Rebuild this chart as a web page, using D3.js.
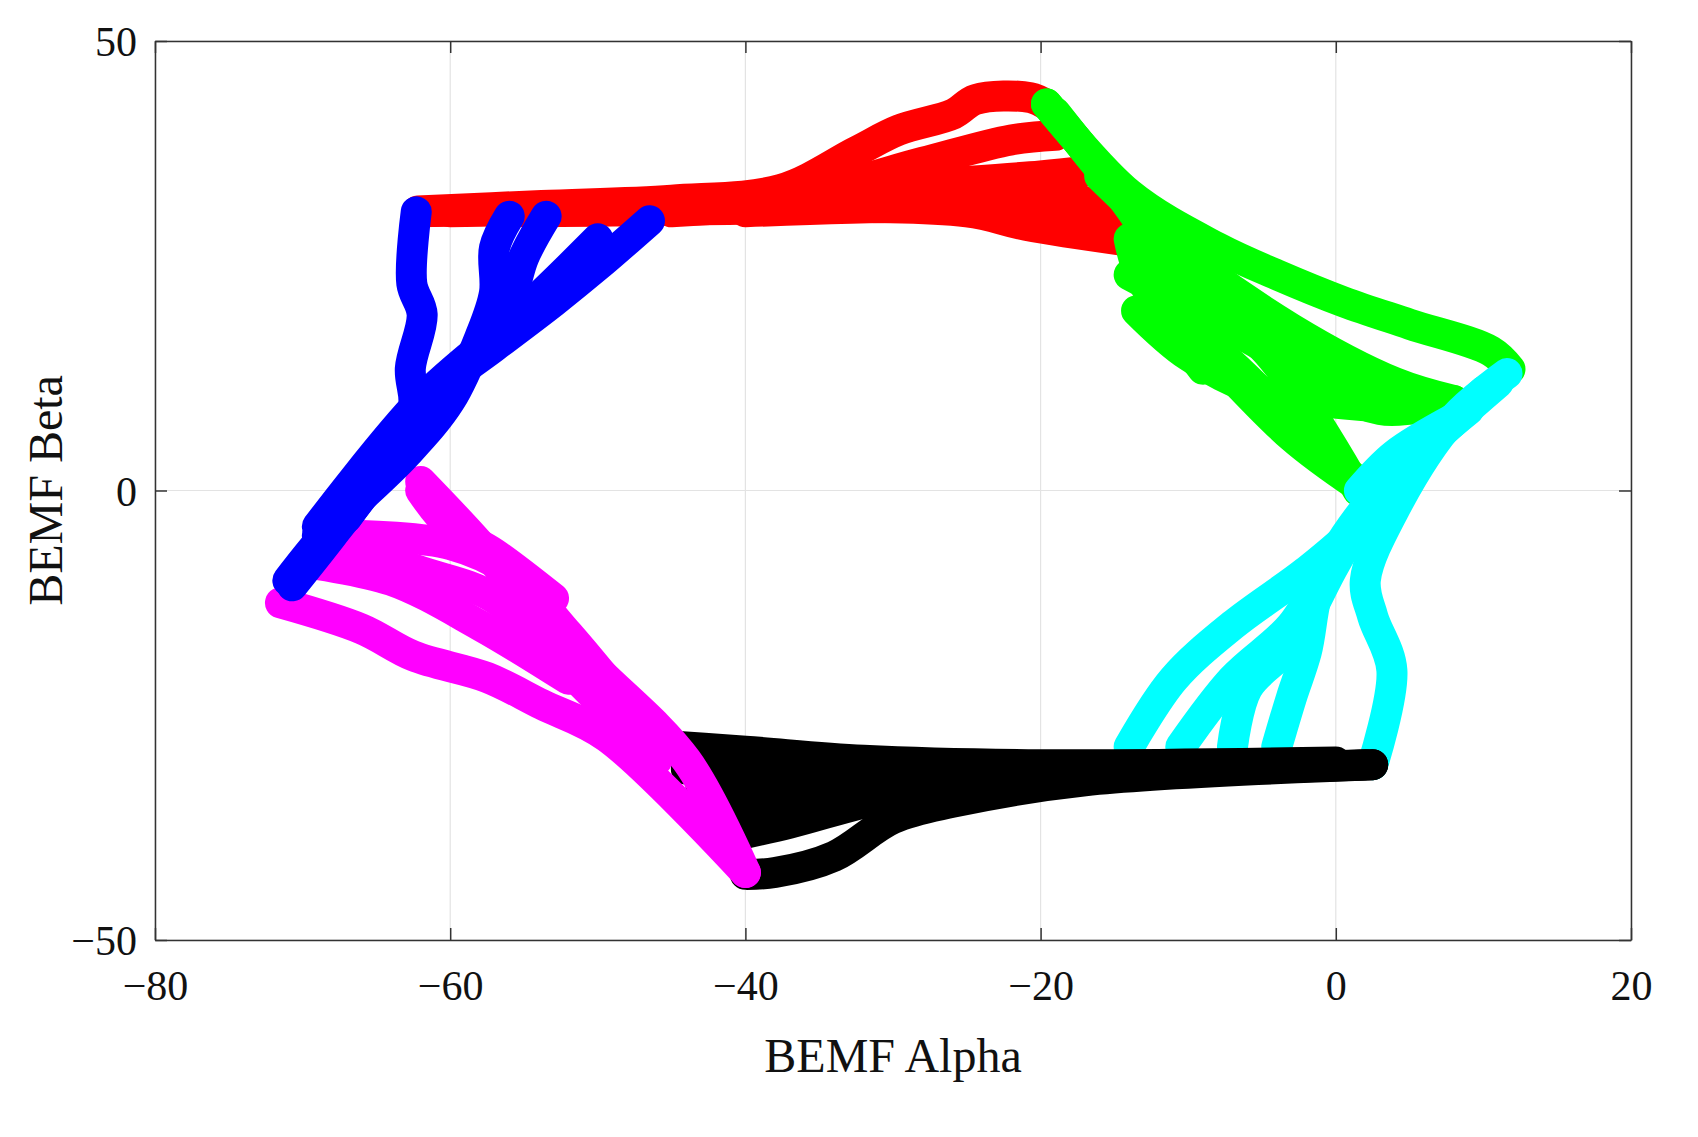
<!DOCTYPE html>
<html>
<head>
<meta charset="utf-8">
<script src="https://cdn.jsdelivr.net/npm/d3@7"></script>
<style>
  body { margin: 0; background: #fff; }
  text { font-family: "Liberation Serif", "Times New Roman", serif; fill: #111; }
</style>
</head>
<body>
<div class="canvas"></div>
<script>
// ticks
const xTicks = [-80, -60, -40, -20, 0, 20];
const yTicks = [-50, 0, 50];

// red segment traces [alpha, beta]
const red = [
  [[-62.2,31.1],[-53.8,31.7],[-45,32.3],[-37.6,33.5],[-32.5,37.7],[-29.6,40.1],[-25.9,41.9],[-24.4,43.5],[-20.7,43.7],[-19.6,42.9]],
  [[-62,31],[-45,32],[-35,33.5],[-28,36.5],[-22,39],[-19,39.5]],
  [[-62,31],[-40,32.5],[-28,34],[-20,35],[-17,35.5]],
  [[-60,31],[-40,31.5],[-25,31],[-21,29.5],[-13,27.5]],
  [[-55,31],[-35,31.5],[-22,32.5],[-13,28.5]],
  [[-45,31],[-30,32.5],[-20,33.5],[-14,30]],
  [[-40,31],[-28,31.5],[-21,31],[-14,28]]
];
const green = [
  [[-19.6,43],[-14,33],[-8,27],[-4,24],[0.5,21],[5,18.5],[10.5,15.5],[11.8,13.5]],
  [[-19.6,43],[-13,29],[-12,24],[-5,16],[1.5,0]],
  [[-19,42],[-13,30],[-7,20],[2,10],[8,10]],
  [[-14,28],[-13,23],[-9,16],[-3,6],[1.5,0.5]],
  [[-13.5,25],[-11,18],[-9,13.5]],
  [[-13.5,20],[-10,15],[-5,11],[6,9]],
  [[-14,24],[-6,17],[3,9],[7.5,10]],
  [[-16,35],[-10,26],[-3,18],[4,12],[8,10]],
  [[-12,21],[-7,14],[-2,6],[1.5,1]]
];
const cyan = [
  [[11.6,13],[8,8],[4,-2],[2,-10],[2.5,-14],[3.8,-20],[2.5,-30.5]],
  [[11,12],[5,3],[1.5,-4],[-2,-9],[-7,-15],[-11,-21],[-14,-28.5]],
  [[10,11],[4,1],[0,-7],[-3,-15],[-7,-21],[-10.5,-28.5]],
  [[9,9],[3,0],[0,-8],[-3,-17],[-6,-22],[-7,-28.5]],
  [[8,8],[2,-2],[-1,-10],[-2,-18],[-3,-23],[-4,-28.5]],
  [[1.6,0],[4,4],[8,8]]
];
const black = [
  [[2.5,-30.5],[-17,-32.3],[-26,-34.7],[-30,-36.5],[-34,-40.7],[-38,-42.5],[-40,-42.7]],
  [[2.5,-30.5],[-20,-32],[-30,-34],[-37,-37],[-41,-38.5]],
  [[2,-30.5],[-25,-31.5],[-35,-31],[-40,-30],[-47,-28.5]],
  [[0,-30.2],[-20,-30.5],[-32,-30],[-40,-29],[-47,-28.2]],
  [[-10,-31],[-30,-33],[-38,-35],[-43,-33]],
  [[-20,-31],[-35,-32],[-44,-31]],
  [[-25,-32],[-36,-34],[-42,-36]]
];
const magenta = [
  [[-71.5,-12.5],[-66,-15.4],[-62.5,-18.4],[-57.5,-20.8],[-53.8,-23.8],[-49.4,-27.4],[-40,-42.5]],
  [[-62,1],[-58,-6],[-55,-12],[-50,-20],[-44,-30],[-40,-42.5]],
  [[-68,-6],[-62,-9],[-57,-12],[-52,-20],[-46,-30]],
  [[-66,-5],[-60,-6],[-56,-9],[-52,-16],[-46,-28]],
  [[-62,0],[-60,-4],[-57,-7],[-53,-12]],
  [[-70,-8],[-64,-10],[-58,-15],[-52,-21]]
];
const blue = [
  [[-62.3,31],[-62.6,23],[-61.9,19.6],[-62.7,13.6],[-62.5,9],[-65,1.5],[-68,-5],[-70.7,-10.6]],
  [[-56,30.5],[-57,27],[-57,22],[-58,17],[-60,10],[-63,4],[-68,-4],[-71,-10]],
  [[-53.5,30.5],[-55,26],[-56,21],[-59,14],[-63,6],[-67,-3]],
  [[-46.5,30],[-50,25],[-53,21],[-57,16],[-61,11],[-65,4],[-69,-5]],
  [[-50,28],[-55,20],[-62,10],[-69,-4]]
];

const series = [
  {color: '#ff0000', traces: red},
  {color: '#00ff00', traces: green},
  {color: '#00ffff', traces: cyan},
  {color: '#000000', traces: black},
  {color: '#ff00ff', traces: magenta},
  {color: '#0000ff', traces: blue}
];

const W = 1698, H = 1137;
const margin = {top: 41, right: 67, bottom: 197, left: 155};
const gw = W - margin.left - margin.right;
const gh = H - margin.top - margin.bottom;

const svg = d3.select('.canvas').append('svg')
    .attr('width', W).attr('height', H);
svg.append('rect').attr('width', W).attr('height', H).attr('fill', '#fff');

const graph = svg.append('g')
    .attr('transform', `translate(${margin.left},${margin.top})`);

const x = d3.scaleLinear().domain([-80, 20]).range([0, gw]);
const y = d3.scaleLinear().domain([-50, 50]).range([gh, 0]);

// grid
graph.selectAll('.vg').data(xTicks).enter().append('line')
    .attr('x1', d => x(d)).attr('x2', d => x(d)).attr('y1', 0).attr('y2', gh)
    .attr('stroke', '#e3e3e3').attr('stroke-width', 1.2);
graph.selectAll('.hg').data(yTicks).enter().append('line')
    .attr('y1', d => y(d)).attr('y2', d => y(d)).attr('x1', 0).attr('x2', gw)
    .attr('stroke', '#e3e3e3').attr('stroke-width', 1.2);

// traces
const line = d3.line().x(d => x(d[0])).y(d => y(d[1])).curve(d3.curveCatmullRom);
series.forEach(s => {
    graph.append('g').selectAll('path').data(s.traces).enter().append('path')
        .attr('d', line)
        .attr('fill', 'none')
        .attr('stroke', s.color)
        .attr('stroke-width', 31)
        .attr('stroke-linecap', 'round')
        .attr('stroke-linejoin', 'round');
});

// axes
const fmt = d => d < 0 ? '\u2212' + Math.abs(d) : d;
const xAxis = d3.axisBottom(x).tickValues(xTicks).tickSizeInner(-12).tickSizeOuter(0).tickPadding(30).tickFormat(fmt);
const yAxis = d3.axisLeft(y).tickValues(yTicks).tickSizeInner(-12).tickSizeOuter(0).tickPadding(18).tickFormat(fmt);

const xg = graph.append('g').attr('transform', `translate(0,${gh})`).call(xAxis);
const yg = graph.append('g').call(yAxis);
graph.append('g').attr('transform', `translate(${gw},0)`)
    .call(d3.axisRight(y).tickValues(yTicks).tickSizeInner(-12).tickSizeOuter(0).tickFormat(''));
graph.append('g')
    .call(d3.axisTop(x).tickValues(xTicks).tickSizeInner(-12).tickSizeOuter(0).tickFormat(''));

graph.selectAll('.domain, .tick line').attr('stroke', '#333').attr('stroke-width', 1.5);
xg.selectAll('text').style('font-size', '42px').style('font-family', '"Liberation Serif", serif');
yg.selectAll('text').style('font-size', '42px').style('font-family', '"Liberation Serif", serif')
    .attr('dy', '0.35em');

// labels
svg.append('text')
    .attr('x', margin.left + gw / 2).attr('y', 1072)
    .attr('text-anchor', 'middle').style('font-size', '48px')
    .text('BEMF Alpha');
svg.append('text')
    .attr('transform', `translate(62,${margin.top + gh / 2}) rotate(-90)`)
    .attr('text-anchor', 'middle').style('font-size', '48px')
    .text('BEMF Beta');
</script>
</body>
</html>
